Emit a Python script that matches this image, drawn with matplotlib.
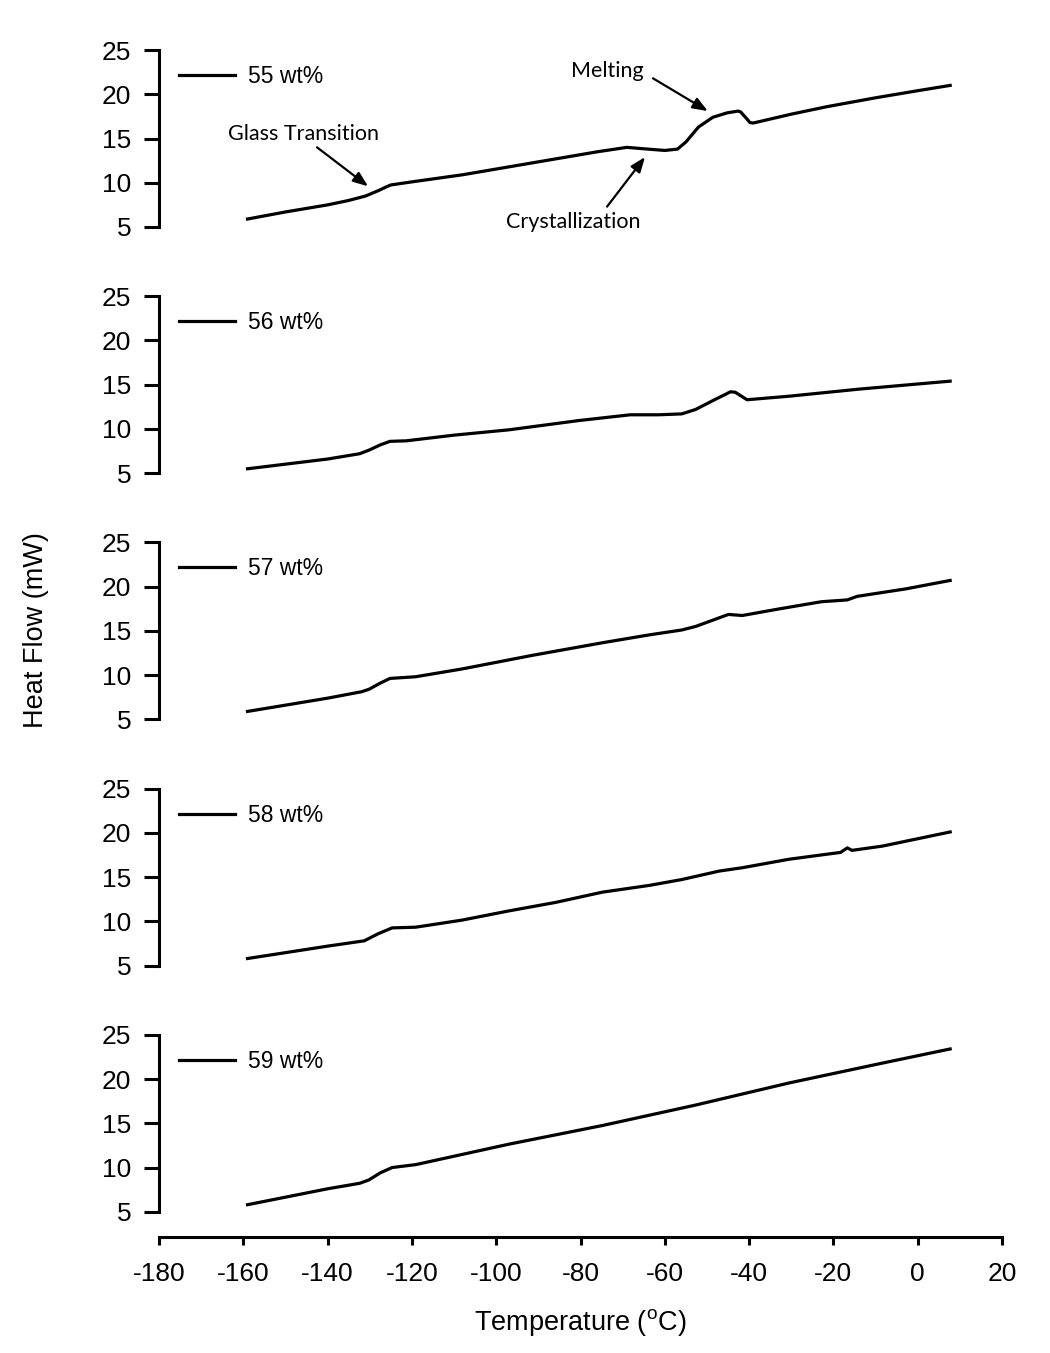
import matplotlib.pyplot as plt
import numpy as np

plt.rcParams['font.family'] = ['Liberation Sans', 'DejaVu Sans']
plt.rcParams['mathtext.fontset'] = 'custom'
plt.rcParams['mathtext.rm'] = 'Liberation Sans'
plt.rcParams['axes.unicode_minus'] = False

labels = ["55 wt%", "56 wt%", "57 wt%", "58 wt%", "59 wt%"]

# temperature (C) / heat flow (mW)
t55 = [-159, -150, -140, -135, -131, -128, -126, -125, -120, -108, -92, -76, -69, -64, -60,
       -57, -55, -52, -48.6, -45.2, -42.6, -42, -40.5, -39.8, -39, -30, -21.5, -10, 0, 7.7]
q55 = [5.9, 6.7, 7.5, 8.0, 8.5, 9.1, 9.55, 9.75, 10.1, 10.9, 12.2, 13.5, 14.0, 13.8, 13.65,
       13.8, 14.6, 16.3, 17.4, 17.9, 18.1, 18.0, 17.2, 16.8, 16.75, 17.75, 18.6, 19.6, 20.4, 21.0]

t56 = [-159, -140, -132.4, -130.2, -127.5, -125.2, -121.3, -110, -97, -80.4, -68.2, -61.5, -56,
       -52.7, -48.2, -44.4, -43.3, -41.8, -40.5, -30.5, -13.9, 7.7]
q56 = [5.5, 6.6, 7.2, 7.6, 8.2, 8.6, 8.66, 9.3, 9.9, 10.95, 11.6, 11.6, 11.7,
       12.2, 13.3, 14.2, 14.15, 13.7, 13.3, 13.7, 14.5, 15.4]

t57 = [-159, -140, -131.9, -130.2, -127.5, -125.2, -119.1, -108.1, -91.4, -74.8, -63.7, -56,
       -52.7, -44.9, -41.6, -32.7, -22.8, -16.7, -14.4, -2.8, 7.7]
q57 = [5.9, 7.4, 8.13, 8.4, 9.1, 9.63, 9.82, 10.7, 12.24, 13.66, 14.55, 15.1,
       15.5, 16.86, 16.74, 17.5, 18.3, 18.5, 18.9, 19.75, 20.7]

t58 = [-159, -140, -131.3, -128, -124.7, -119.1, -108.1, -97, -85.9, -74.8, -63.7, -56,
       -47.1, -41.6, -30.5, -18.3, -16.7, -15.6, -8.4, 7.7]
q58 = [5.8, 7.2, 7.8, 8.6, 9.26, 9.34, 10.14, 11.18, 12.14, 13.3, 14.06, 14.72,
       15.68, 16.06, 17.02, 17.79, 18.3, 18.02, 18.5, 20.1]

t59 = [-159, -140, -132.4, -130.2, -127.5, -124.7, -119.1, -97, -74.8, -52.7, -30.5, -8.4, 7.7]
q59 = [5.8, 7.6, 8.22, 8.6, 9.4, 10.0, 10.33, 12.64, 14.75, 17.06, 19.56, 21.8, 23.4]

temps = [t55, t56, t57, t58, t59]
flows = [q55, q56, q57, q58, q59]

W, H = 1050, 1353
fig = plt.figure(figsize=(W / 100, H / 100), dpi=100)

left = 159 / W
width = (1002 - 159) / W
axes = []
for i in range(5):
    top_px = 50 + 246.2 * i
    ax = fig.add_axes([left, 1 - (top_px + 177) / H, width, 177 / H])
    ax.plot(temps[i], flows[i], color="black", lw=2.3, label=labels[i])
    ax.set_xlim(-180, 20)
    ax.set_ylim(5, 25)
    ax.set_yticks([5, 10, 15, 20, 25])
    for s in ["top", "right"]:
        ax.spines[s].set_visible(False)
    ax.spines["left"].set_linewidth(2.2)
    ax.tick_params(axis="y", direction="out", length=11, width=2.2, labelsize=19, pad=9)
    if i < 4:
        ax.spines["bottom"].set_visible(False)
        ax.set_xticks([])
    else:
        ax.spines["bottom"].set_position(("outward", 18))
        ax.spines["bottom"].set_linewidth(2.2)
        ax.set_xticks(np.arange(-180, 21, 20))
        ax.tick_params(axis="x", direction="out", length=6, width=2.2, labelsize=19, pad=12)
        ax.set_xlabel(r"Temperature ($^{\mathrm{o}}$C)", fontsize=19.5, labelpad=15)
    ax.legend(loc="center left", bbox_to_anchor=(0.024, 0.85), frameon=False, fontsize=16.5,
              handlelength=2.45, handletextpad=0.55, borderpad=0, borderaxespad=0)
    axes.append(ax)

fig.text(36 / W, 1 - 630 / H, "Heat Flow (mW)", rotation=90, fontsize=19.5,
         ha="center", va="center")

# annotations on the top panel
ax = axes[0]
ann_font = dict(family=["Lato", "DejaVu Sans"], fontsize=15.5, ha="center", va="center")
arrow = dict(arrowstyle="-|>,head_length=0.9,head_width=0.35", color="black", lw=1.6,
             shrinkA=0, shrinkB=0)
ax.text(-145.6, 15.5, "Glass Transition", **ann_font)
ax.annotate("", xy=(-130.4, 9.6), xytext=(-142.5, 14.0), arrowprops=arrow)
ax.text(-73.7, 22.6, "Melting", **ann_font)
ax.annotate("", xy=(-49.8, 18.1), xytext=(-62.8, 21.8), arrowprops=arrow)
ax.text(-81.8, 5.6, "Crystallization", **ann_font)
ax.annotate("", xy=(-64.7, 12.9), xytext=(-73.7, 7.3), arrowprops=arrow)

fig.savefig("out.png", dpi=100)
